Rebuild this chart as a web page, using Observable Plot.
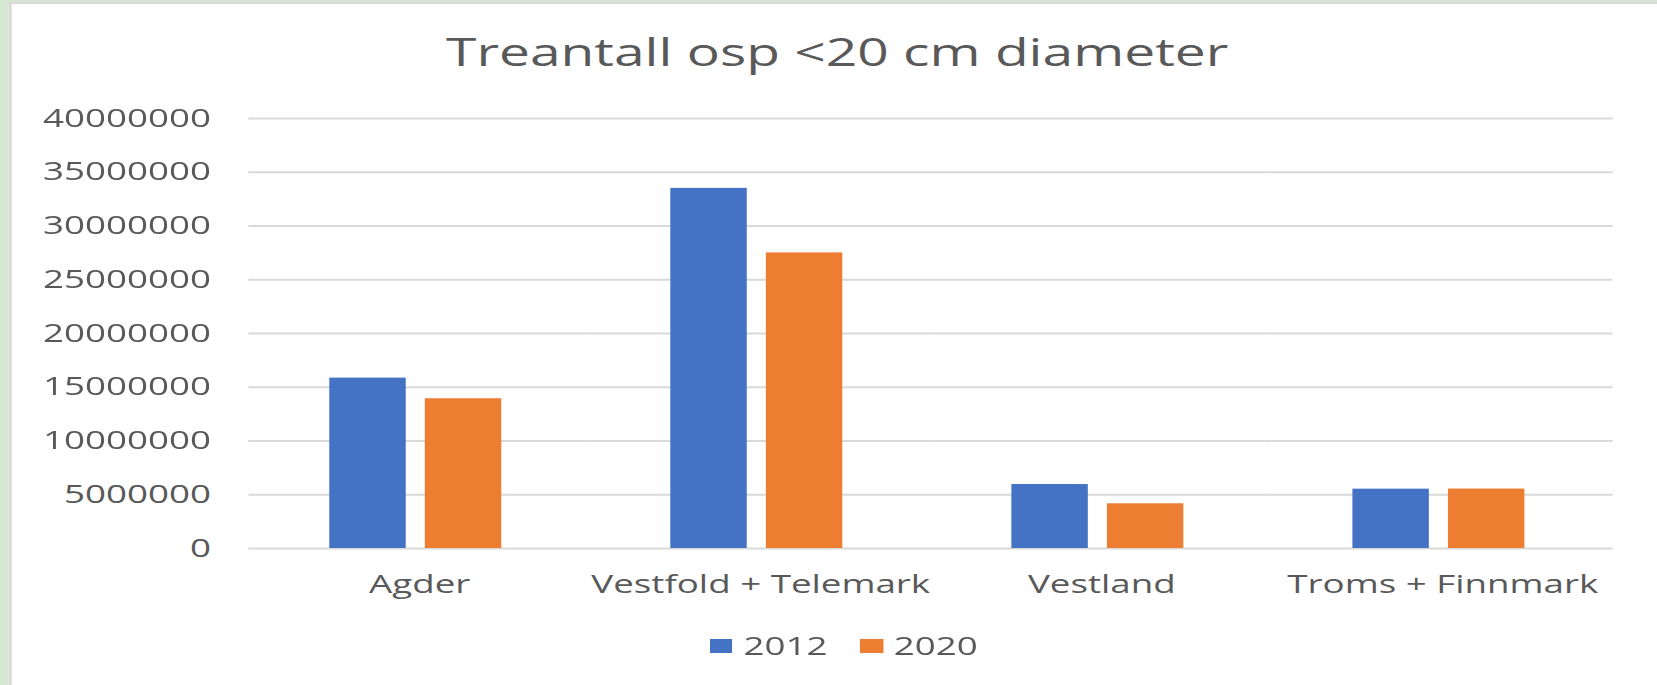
<!DOCTYPE html>
<html>
<head>
<meta charset="utf-8">
<script src="https://cdn.jsdelivr.net/npm/d3@7"></script>
<script src="https://cdn.jsdelivr.net/npm/@observablehq/plot@0.6"></script>
<style>
  html, body { margin: 0; padding: 0; overflow: hidden; background: #d6e8d2; width: 1657px; height: 685px; }
  #stage { position: absolute; left: 0; top: 0; width: 1127px; height: 685px; transform: scaleX(1.47); transform-origin: 0 0; }
  #box { position: absolute; left: 5.5px; top: 2px; width: 1200px; height: 720px; background: #fff;
         border-left: 2.7px solid #dadada; border-top: 2px solid #dadada; }
  .t { font-family: "Open Sans", sans-serif; color: #595959; }
  #title { position: absolute; left: 0; width: 1139px; top: 33.4px; text-align: center; font-size: 37.5px; line-height: 1; }
  #chart { position: absolute; left: 0; top: 90px; }
  #legend { position: absolute; left: 0; width: 1148px; top: 632.8px; display: flex; justify-content: center; font-size: 25px; line-height: 1; }
  .item { display: flex; align-items: flex-start; margin: 0 11px; }
  .sw { width: 15.5px; height: 14px; margin-top: 6.2px; margin-right: 7.5px; }
</style>
</head>
<body>
<div id="stage">
  <div id="box"></div>
  <div id="title" class="t">Treantall osp &lt;20 cm diameter</div>
  <div id="chart"></div>
  <div id="legend" class="t"></div>
</div>
<script>
const regions = ["Agder", "Vestfold + Telemark", "Vestland", "Troms + Finnmark"];
const years = ["2012", "2020"];
const values2012 = [15850000, 33500000, 5950000, 5520000];
const values2020 = [13930000, 27500000, 4160000, 5530000];
const colors = ["#4472C4", "#ED7D31"];

const rows = [];
regions.forEach((r, i) => {
  rows.push({region: r, year: years[0], value: values2012[i]});
  rows.push({region: r, year: years[1], value: values2020[i]});
});

const chart = Plot.plot({
  width: 1127,
  height: 530,
  marginLeft: 168,
  marginRight: 30,
  marginTop: 28,
  marginBottom: 72,
  style: {fontFamily: "Open Sans, sans-serif", fontSize: "25px", color: "#595959", background: "transparent", overflow: "visible"},
  fx: {domain: regions, padding: 0, label: null, tickSize: 0, tickPadding: 27, axis: "bottom"},
  x: {domain: years, paddingInner: 0.206, paddingOuter: 0.861, align: 0.48, axis: null},
  y: {domain: [0, 40000000], ticks: 8, tickFormat: d => String(d), tickSize: 0, tickPadding: 26, label: null},
  color: {domain: years, range: colors},
  marks: [
    Plot.gridY({ticks: 8, stroke: "#d9d9d9", strokeOpacity: 1, strokeWidth: 2}),
    Plot.barY(rows, {fx: "region", x: "year", y: "value", fill: "year"})
  ]
});
document.getElementById("chart").appendChild(chart);

const legend = document.getElementById("legend");
years.forEach((y, i) => {
  const item = document.createElement("div");
  item.className = "item";
  const sw = document.createElement("span");
  sw.className = "sw";
  sw.style.background = colors[i];
  const lab = document.createElement("span");
  lab.textContent = y;
  item.appendChild(sw);
  item.appendChild(lab);
  legend.appendChild(item);
});
</script>
</body>
</html>
